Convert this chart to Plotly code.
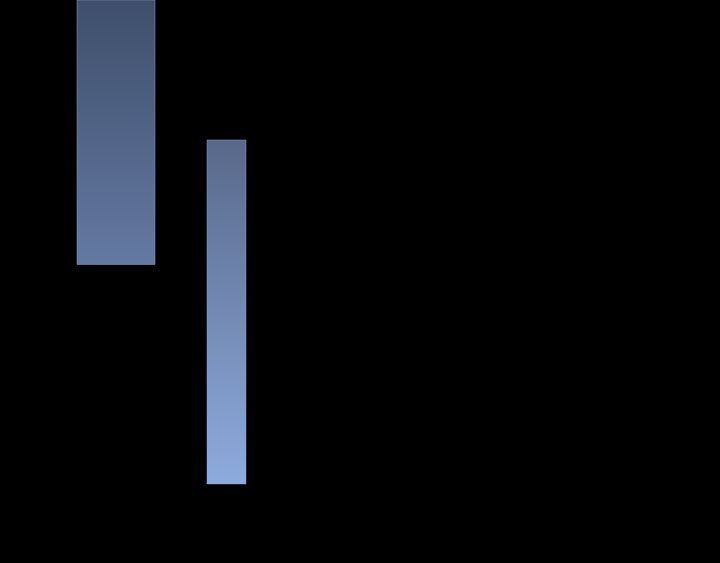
import plotly.graph_objects as go

# floating bars: position, width, low and high values
labels = ["A", "B"]
x_center = [116, 226.5]
bar_width = [78, 39]
y_low = [298.5, 79]
y_high = [563, 423]

# gradient colours (bottom, top) for each bar
bottom_colors = ["#6479a2", "#8eabde"]
top_colors = ["#3e4e6b", "#58688a"]

fig = go.Figure()

for i, name in enumerate(labels):
    left = x_center[i] - bar_width[i] / 2
    right = x_center[i] + bar_width[i] / 2
    fig.add_trace(go.Scatter(
        x=[left, right, right, left, left],
        y=[y_low[i], y_low[i], y_high[i], y_high[i], y_low[i]],
        mode="lines",
        fill="toself",
        name=name,
        line=dict(color="rgba(150,170,210,0.45)", width=1),
        fillgradient=dict(
            type="vertical",
            colorscale=[[0, bottom_colors[i]], [1, top_colors[i]]],
        ),
        hoverinfo="skip",
    ))

fig.update_layout(
    width=720, height=563,
    margin=dict(l=0, r=0, t=0, b=0),
    paper_bgcolor="black", plot_bgcolor="black",
    showlegend=False,
    xaxis=dict(range=[0, 720], visible=False, fixedrange=True),
    yaxis=dict(range=[0, 563], visible=False, fixedrange=True),
)

# page has a default body margin, remove it so the plot fills the window
fig.write_html(
    "out.html",
    config={"displayModeBar": False},
    post_script="document.body.style.margin='0';"
                "document.body.style.background='black';"
                "document.body.style.overflow='hidden';",
)
